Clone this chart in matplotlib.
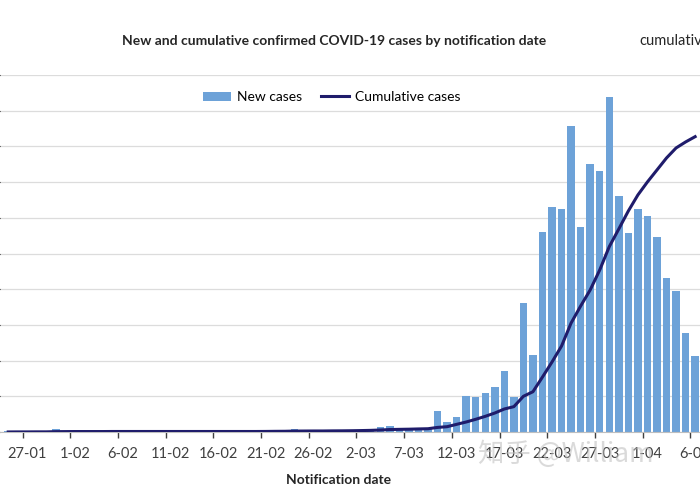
import matplotlib
matplotlib.use("Agg")
import matplotlib.pyplot as plt
import matplotlib.dates as mdates
import numpy as np
import pandas as pd

# Daily notifications, 25-01 .. 06-04 (2020)
dates = pd.date_range("2020-01-25", "2020-04-06", freq="D")

new_cases = [
    1, 1, 0, 1, 0, 4, 1, 1, 0, 0,
    0, 1, 0, 0, 0, 0, 0, 0, 0, 0,
    0, 0, 0, 0, 0, 0, 0, 1, 2, 1,
    4, 1, 1, 0, 2, 1, 2, 3, 4, 7,
    9, 4, 3, 5, 4, 29, 14, 21, 50, 49,
    55, 63, 86, 49, 180, 108, 280, 315, 312, 428,
    287, 376, 366, 469, 331, 279, 312, 303, 273, 216,
    197, 138, 106,
]

cumulative_cases = [
    1, 2, 2, 3, 3, 7, 8, 9, 9, 9,
    9, 10, 10, 10, 10, 10, 10, 10, 10, 10,
    10, 10, 10, 10, 10, 10, 10, 11, 13, 14,
    18, 19, 20, 20, 22, 23, 25, 28, 32, 39,
    48, 52, 55, 60, 64, 90, 104, 150, 196, 249,
    307, 372, 451, 497, 700, 790, 1078, 1373, 1686, 2137,
    2470, 2785, 3177, 3634, 3981, 4334, 4648, 4903, 5138, 5373,
    5569, 5687, 5791,
]

label_dates = pd.date_range("2020-01-27", "2020-04-06", freq="5D")

plt.rcParams["font.family"] = ["Lato", "DejaVu Sans"]

bar_color = "#6da2d8"
line_color = "#1f1c6b"

fig = plt.figure(figsize=(7, 5), dpi=100)
ax = fig.add_axes([0.0, 0.136, 1.0, 0.714])

x = mdates.date2num(dates)
ax.bar(x, new_cases, width=0.78, color=bar_color, zorder=2, label="New cases")
ax.set_ylim(0, 500)
ax.set_yticks(np.arange(0, 501, 50))
ax.yaxis.grid(True, color="#dcdcdc", linewidth=0.9, zorder=0)
ax.set_axisbelow(True)
ax.tick_params(axis="y", left=False, labelleft=False)

x0 = mdates.date2num(pd.Timestamp("2020-01-22"))
ax.set_xlim(x0 + 2.14, x0 + 75.51)

# labels centred on the date, tick marks on the category boundary
lx = mdates.date2num(label_dates)
ax.set_xticks(lx)
ax.set_xticklabels([f"{d.day}-{d.month:02d}" for d in label_dates], fontsize=10.5)
ax.set_xticks(lx - 0.5, minor=True)
ax.tick_params(axis="x", which="major", length=0, pad=11, colors="#404040")
ax.tick_params(axis="x", which="minor", length=4.5, width=1, color="#404040")

for s in ["top", "left", "right"]:
    ax.spines[s].set_visible(False)
ax.spines["bottom"].set_color("#bfbfbf")

ax2 = ax.twinx()
ax2.plot(x, cumulative_cases, color=line_color, linewidth=2.2, label="Cumulative cases",
         solid_joinstyle="round")
ax2.set_ylim(0, 7000)
ax2.tick_params(axis="y", right=False, labelright=False)
for s in ["top", "left", "right", "bottom"]:
    ax2.spines[s].set_visible(False)

h1, l1 = ax.get_legend_handles_labels()
h2, l2 = ax2.get_legend_handles_labels()
fig.legend(h1 + h2, l1 + l2, loc="center", bbox_to_anchor=(0.474, 0.806), ncol=2,
           frameon=False, fontsize=10, handlelength=2.0, handleheight=0.6,
           columnspacing=1.4, handletextpad=0.4)

fig.text(0.478, 0.918, "New and cumulative confirmed COVID-19 cases by notification date",
         ha="center", va="center", fontsize=10, fontweight="bold", color="#262626")
fig.text(0.914, 0.918, "cumulative", ha="left", va="center", fontsize=10.5, color="#262626")
fig.text(0.484, 0.04, "Notification date", ha="center", va="center",
         fontsize=10, fontweight="bold", color="#262626")

# watermark
fig.text(0.683, 0.092, "知乎 @William", ha="left", va="center", fontsize=19,
         color="#bdbdbd", alpha=0.55, family=["Noto Sans CJK SC", "DejaVu Sans"])

fig.savefig("out.png", dpi=100)
